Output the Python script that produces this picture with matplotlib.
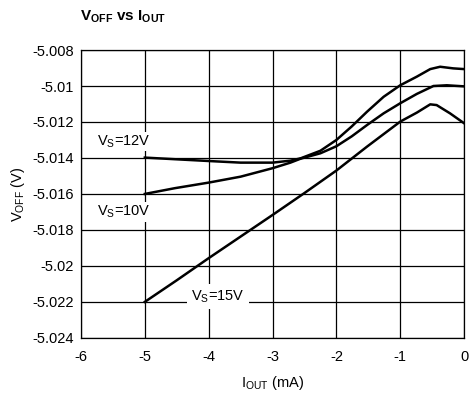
import numpy as np
import matplotlib
matplotlib.use('Agg')
import matplotlib.pyplot as plt

plt.rcParams['font.family'] = ['Liberation Sans', 'DejaVu Sans']
plt.rcParams['mathtext.fontset'] = 'custom'
plt.rcParams['mathtext.rm'] = 'Liberation Sans'
plt.rcParams['mathtext.it'] = 'Liberation Sans'
plt.rcParams['mathtext.bf'] = 'Liberation Sans:bold'

# output current (mA) and offset voltage (V) per supply
iout_12 = [-5, -4.53, -4, -3.5, -3, -2.72, -2.56, -2.25, -2, -1.76, -1.52, -1.26, -1, -0.74, -0.53,
           -0.375, -0.17, 0]
voff_12 = [-5.01398, -5.01407, -5.01417, -5.01426, -5.01426, -5.01415, -5.01402, -5.01360, -5.0130,
           -5.01225, -5.01143, -5.0106, -5.00996, -5.00948, -5.00906, -5.00893, -5.00902, -5.00906]

iout_10 = [-5, -4.53, -4, -3.5, -3, -2.72, -2.56, -2.25, -2, -1.76, -1.52, -1.26, -1, -0.74, -0.48,
           -0.27, 0]
voff_10 = [-5.0160, -5.01568, -5.01537, -5.01504, -5.01457, -5.01426, -5.01404, -5.01374, -5.01335,
           -5.01280, -5.01217, -5.01152, -5.01096, -5.01044, -5.01000, -5.00996, -5.01002]

iout_15 = [-5, -4.5, -4, -3.5, -3, -2.5, -2, -1.52, -1, -0.74, -0.53, -0.43, -0.22, 0]
voff_15 = [-5.0220, -5.02080, -5.01957, -5.01837, -5.01717, -5.01595, -5.01470, -5.01337, -5.01198,
           -5.01148, -5.01102, -5.01106, -5.01152, -5.01207]

curve_labels = ['$\\mathrm{V_S}$=12V', '$\\mathrm{V_S}$=10V', '$\\mathrm{V_S}$=15V']

fig = plt.figure(figsize=(4.75, 3.97), dpi=100)
ax = fig.add_axes([0.1705, 0.149, 0.8065, 0.725])

for xs, ys in [(iout_12, voff_12), (iout_10, voff_10), (iout_15, voff_15)]:
    ax.plot(xs, ys, color='black', lw=1.8, solid_joinstyle='round')

ax.set_xlim(-6, 0)
ax.set_ylim(-5.024, -5.008)
ax.set_xticks(np.arange(-6, 1, 1))
ax.set_yticks(np.arange(-5.024, -5.0079, 0.002))
ax.set_xticklabels(['-6', '-5', '-4', '-3', '-2', '-1', '0'])
ax.set_yticklabels(['-5.024', '-5.022', '-5.02', '-5.018', '-5.016', '-5.014', '-5.012', '-5.01', '-5.008'])
ax.tick_params(length=0, labelsize=10.5, pad=5)
ax.tick_params(axis='x', pad=9)
ax.grid(True, color='black', lw=0.9)
ax.set_axisbelow(True)
for s in ax.spines.values():
    s.set_linewidth(0.9)

ax.set_xlabel('$\\mathrm{I_{OUT}}$ (mA)', fontsize=10.5, labelpad=7)
ax.set_ylabel('$\\mathrm{V_{OFF}}$ (V)', fontsize=10.5, labelpad=4)

ax.text(-5.33, -5.0131, curve_labels[0], ha='center', va='center', fontsize=10.5,
        bbox=dict(facecolor='white', edgecolor='none', pad=1))
ax.text(-5.33, -5.0170, curve_labels[1], ha='center', va='center', fontsize=10.5,
        bbox=dict(facecolor='white', edgecolor='none', pad=1))
ax.text(-3.86, -5.0217, curve_labels[2], ha='center', va='center', fontsize=10.5,
        bbox=dict(facecolor='white', edgecolor='none', pad=3))

fig.text(0.168, 0.958, '$\\mathbf{V_{OFF}}$ vs $\\mathbf{I_{OUT}}$', fontsize=11,
         fontweight='bold', ha='left', va='center')

fig.savefig('out.png', dpi=100)
